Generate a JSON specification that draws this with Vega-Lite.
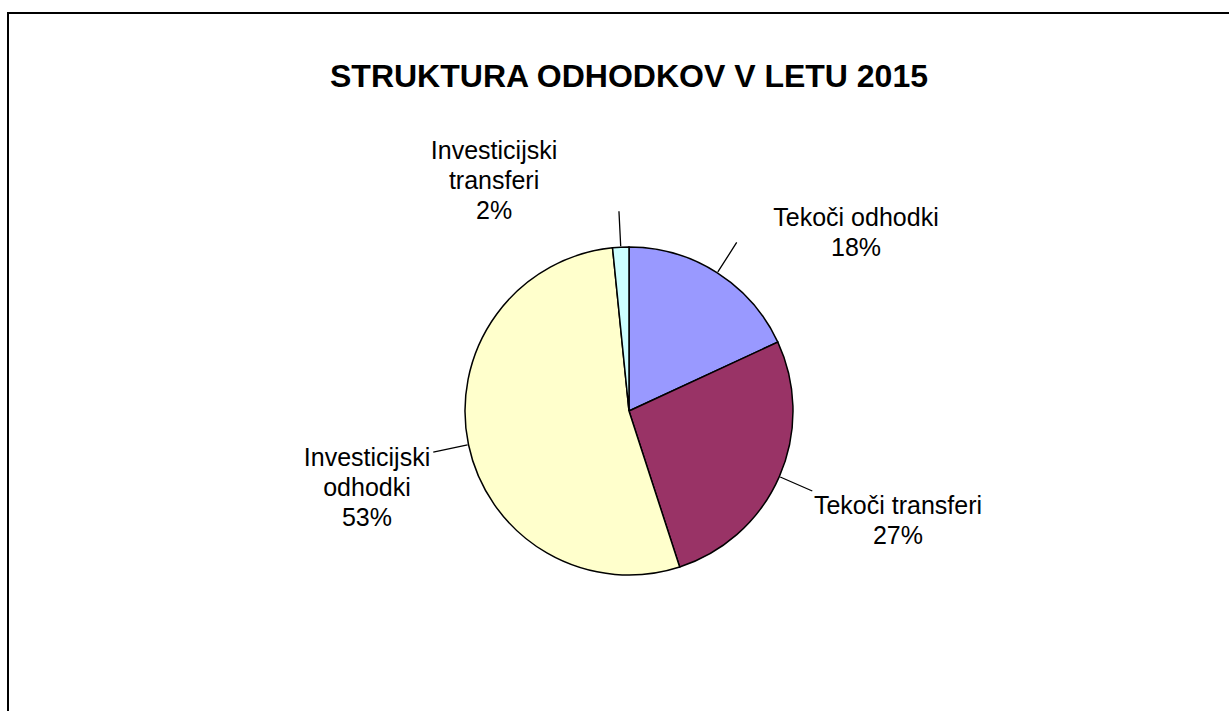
{
  "$schema": "https://vega.github.io/schema/vega-lite/v6.json",
  "width": 1242,
  "height": 796,
  "autosize": {"type": "none"},
  "padding": {"left": 8, "top": 13, "right": 0, "bottom": 0},
  "background": "white",
  "title": {
    "text": "STRUKTURA ODHODKOV V LETU 2015",
    "font": "Liberation Sans",
    "fontSize": 32,
    "fontWeight": "bold",
    "color": "#000000",
    "anchor": "middle",
    "baseline": "alphabetic",
    "offset": -106
  },
  "view": {"stroke": "#000000", "strokeWidth": 2},
  "data": {
    "values": [
      {"kategorija": "Tekoči odhodki", "delez": 18.1, "zap": 1},
      {"kategorija": "Tekoči transferi", "delez": 26.9, "zap": 2},
      {"kategorija": "Investicijski odhodki", "delez": 53.4, "zap": 3},
      {"kategorija": "Investicijski transferi", "delez": 1.6, "zap": 4}
    ]
  },
  "layer": [
    {
      "mark": {"type": "arc", "radius": 164, "stroke": "#000000", "strokeWidth": 1.5},
      "encoding": {
        "theta": {"field": "delez", "type": "quantitative", "stack": true, "scale": {"domain": [0, 100]}},
        "order": {"field": "zap", "type": "quantitative"},
        "color": {
          "field": "kategorija",
          "type": "nominal",
          "scale": {
            "domain": ["Tekoči odhodki", "Tekoči transferi", "Investicijski odhodki", "Investicijski transferi"],
            "range": ["#9999FF", "#993366", "#FFFFCC", "#CCFFFF"]
          },
          "legend": null
        }
      }
    },
    {
      "transform": [
        {"stack": "delez", "groupby": [], "sort": [{"field": "zap"}], "as": ["od", "do"]},
        {"fold": ["od", "do"], "as": ["meja", "kot"]},
        {"aggregate": [{"op": "mean", "field": "kot", "as": "sredina"}], "groupby": ["kategorija", "delez"]}
      ],
      "mark": {"type": "arc", "radius": 200, "radius2": 165, "filled": false, "stroke": "#000000", "strokeWidth": 1.3},
      "encoding": {
        "theta": {"field": "sredina", "type": "quantitative", "stack": null},
        "theta2": {"field": "sredina"}
      }
    },
    {
      "transform": [
        {"stack": "delez", "groupby": [], "sort": [{"field": "zap"}], "as": ["od", "do"]},
        {"fold": ["od", "do"], "as": ["meja", "kot"]},
        {"aggregate": [{"op": "mean", "field": "kot", "as": "sredina"}], "groupby": ["kategorija", "delez"]},
        {"filter": "datum.kategorija === 'Tekoči odhodki'"}
      ],
      "mark": {
        "type": "text", "radius": 270, "dx": 81.6, "dy": 34.3,
        "font": "Liberation Sans", "fontSize": 25, "lineHeight": 30, "color": "#000000",
        "align": "center", "baseline": "middle", "lineBreak": "\n",
        "text": {"expr": "datum.kategorija + '\\n' + format(datum.delez, '.0f') + '%'"}
      },
      "encoding": {"theta": {"field": "sredina", "type": "quantitative", "stack": null}}
    },
    {
      "transform": [
        {"stack": "delez", "groupby": [], "sort": [{"field": "zap"}], "as": ["od", "do"]},
        {"fold": ["od", "do"], "as": ["meja", "kot"]},
        {"aggregate": [{"op": "mean", "field": "kot", "as": "sredina"}], "groupby": ["kategorija", "delez"]},
        {"filter": "datum.kategorija === 'Tekoči transferi'"}
      ],
      "mark": {
        "type": "text", "radius": 270, "dx": 21.5, "dy": -12.7,
        "font": "Liberation Sans", "fontSize": 25, "lineHeight": 30, "color": "#000000",
        "align": "center", "baseline": "middle", "lineBreak": "\n",
        "text": {"expr": "datum.kategorija + '\\n' + format(datum.delez, '.0f') + '%'"}
      },
      "encoding": {"theta": {"field": "sredina", "type": "quantitative", "stack": null}}
    },
    {
      "transform": [
        {"stack": "delez", "groupby": [], "sort": [{"field": "zap"}], "as": ["od", "do"]},
        {"fold": ["od", "do"], "as": ["meja", "kot"]},
        {"aggregate": [{"op": "mean", "field": "kot", "as": "sredina"}], "groupby": ["kategorija", "delez"]},
        {"filter": "datum.kategorija === 'Investicijski odhodki'"}
      ],
      "mark": {
        "type": "text", "radius": 270, "dx": 2.2, "dy": -8.8,
        "font": "Liberation Sans", "fontSize": 25, "lineHeight": 30, "color": "#000000",
        "align": "center", "baseline": "middle", "lineBreak": "\n",
        "text": {"expr": "replace(datum.kategorija, ' ', '\\n') + '\\n' + format(datum.delez, '.0f') + '%'"}
      },
      "encoding": {"theta": {"field": "sredina", "type": "quantitative", "stack": null}}
    },
    {
      "transform": [
        {"stack": "delez", "groupby": [], "sort": [{"field": "zap"}], "as": ["od", "do"]},
        {"fold": ["od", "do"], "as": ["meja", "kot"]},
        {"aggregate": [{"op": "mean", "field": "kot", "as": "sredina"}], "groupby": ["kategorija", "delez"]},
        {"filter": "datum.kategorija === 'Investicijski transferi'"}
      ],
      "mark": {
        "type": "text", "radius": 270, "dx": -121.4, "dy": 9.5,
        "font": "Liberation Sans", "fontSize": 25, "lineHeight": 30, "color": "#000000",
        "align": "center", "baseline": "middle", "lineBreak": "\n",
        "text": {"expr": "replace(datum.kategorija, ' ', '\\n') + '\\n' + format(datum.delez, '.0f') + '%'"}
      },
      "encoding": {"theta": {"field": "sredina", "type": "quantitative", "stack": null}}
    }
  ]
}
